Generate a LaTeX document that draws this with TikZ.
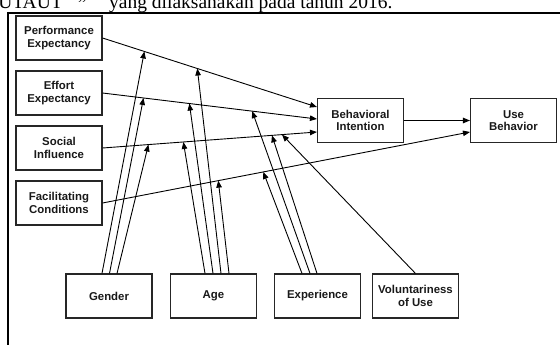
\documentclass[tikz,border=0pt]{standalone}
\usepackage{fontspec}
\setmainfont{Liberation Sans}
\newfontfamily\serifft{Liberation Serif}
\usetikzlibrary{arrows.meta,calc}
\begin{document}
\begin{tikzpicture}[x=1pt,y=-1pt,
 box/.style={draw=black!85,line width=1.1pt,fill=white,minimum width=86pt,minimum height=44pt,inner sep=0pt,align=center,font=\fontsize{11.4}{12.5}\selectfont\bfseries,text=black!90},
 arr/.style={line width=0.9pt,-{Triangle[length=7pt,width=5.5pt]}},
 ttl/.style={font=\serifft\fontsize{19.5}{20}\selectfont,inner sep=0pt}]
\useasboundingbox (0,0) rectangle (560,345);
\fill[white] (0,0) rectangle (560,345);
% cropped caption line above the figure
\node[ttl,anchor=base east] (t1) at (63,9) {UTAUT};
\node[ttl,anchor=base west] (t2) at (78,10.5) {”};
\node[ttl,anchor=base west] (t3) at (109,9) {yang dilaksanakan pada tahun 2016.};
% frame
\draw[line width=1.3pt] (8,12) -- (8,346);
\draw[line width=2pt] (7.4,12.7) -- (561,12.7);
% boxes
\node[box] (pe) at (59,38) {Performance\\Expectancy};
\node[box] (ee) at (59,93) {Effort\\Expectancy};
\node[box] (si) at (59,148) {Social\\Influence};
\node[box] (fc) at (59,203) {Facilitating\\Conditions};
\node[box] (bi) at (360.5,120.5) {Behavioral\\Intention};
\node[box] (ub) at (513.5,120.5) {Use\\Behavior};
\node[box] (gen) at (109,296) {Gender};
\node[box] (age) at (213.5,296) {Age};
\node[box] (exp) at (317.5,296) {Experience};
\node[box] (vol) at (415.5,296) {Voluntariness\\of Use};
% main paths
\coordinate (bi1) at ($(bi.west)+(0,-13.5)$);
\coordinate (bi2) at ($(bi.west)+(0,-1.5)$);
\coordinate (bi3) at ($(bi.west)+(0,11.5)$);
\coordinate (ub2) at ($(ub.west)+(0,11.5)$);
\draw[arr] (pe.east) -- (bi1);
\draw[arr] (ee.east) -- (bi2);
\draw[arr] (si.east) -- (bi3);
\draw[arr] (fc.east) -- (ub2);
\draw[arr] (bi.east) -- (ub.west);
% points on the main paths
\coordinate (peG) at ($(pe.east)!0.195!(bi1)$);
\coordinate (peA) at ($(pe.east)!0.442!(bi1)$);
\coordinate (eeG) at ($(ee.east)!0.191!(bi2)$);
\coordinate (eeA) at ($(ee.east)!0.405!(bi2)$);
\coordinate (eeE) at ($(ee.east)!0.698!(bi2)$);
\coordinate (siG) at ($(si.east)!0.214!(bi3)$);
\coordinate (siA) at ($(si.east)!0.377!(bi3)$);
\coordinate (siE) at ($(si.east)!0.79!(bi3)$);
\coordinate (siV) at ($(si.east)!0.837!(bi3)$);
\coordinate (fcA) at ($(fc.east)!0.315!(ub2)$);
\coordinate (fcE) at ($(fc.east)!0.4375!(ub2)$);
% moderators
\draw[arr] ($(gen.north)+(-7,0)$) -- (peG);
\draw[arr] ($(gen.north)+(0.5,0)$) -- (eeG);
\draw[arr] ($(gen.north)+(8,0)$) -- (siG);
\draw[arr] ($(age.north)+(-8.5,0)$) -- (siA);
\draw[arr] ($(age.north)+(-0.5,0)$) -- (eeA);
\draw[arr] ($(age.north)+(7.5,0)$) -- (peA);
\draw[arr] ($(age.north)+(15.5,0)$) -- (fcA);
\draw[arr] ($(exp.north)+(-15.5,0)$) -- (fcE);
\draw[arr] ($(exp.north)+(-7.5,0)$) -- (eeE);
\draw[arr] ($(exp.north)+(-0.5,0)$) -- (siE);
\draw[arr] (vol.north) -- (siV);
\end{tikzpicture}
\end{document}
